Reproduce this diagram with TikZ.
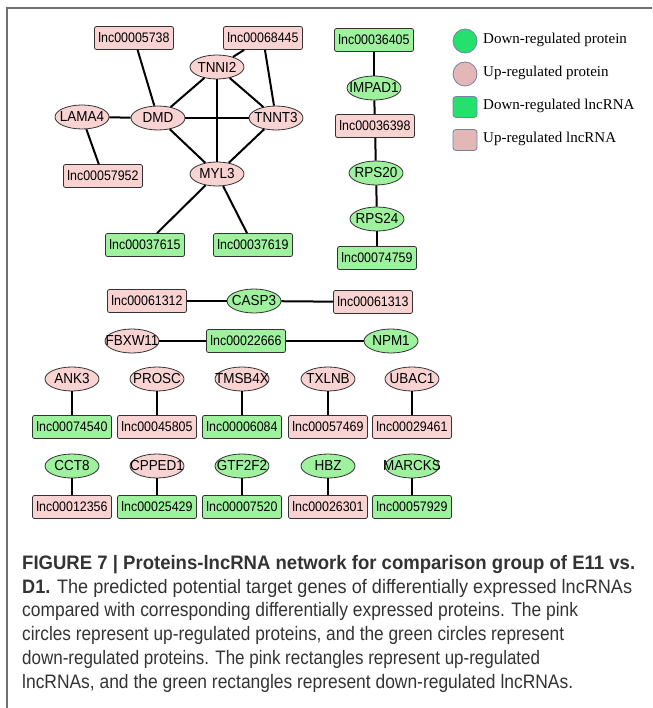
\documentclass[tikz,border=0pt]{standalone}
\usepackage{fontspec}
\setmainfont{Liberation Sans}
\newfontfamily\serifleg{Liberation Serif}
\usetikzlibrary{shapes.geometric}
\definecolor{npink}{HTML}{F9D2D2}
\definecolor{ngreen}{HTML}{9EF29E}
\definecolor{lgreen}{HTML}{26E06E}
\definecolor{lpink}{HTML}{E4B7B7}
\definecolor{lborder}{HTML}{7383A8}
\definecolor{framegray}{HTML}{707070}
\definecolor{captext}{HTML}{333333}
\newsavebox\capbox
\newdimen\capw
\newcommand\capline[2]{\sbox\capbox{#2}\capw=\wd\capbox\pgfmathsetmacro\capr{#1/\capw}\scalebox{\capr}[1]{\usebox\capbox}}
\newcommand\pl[1]{\makebox[0pt]{\scalebox{0.93}[1]{#1}}}
\newcommand\lc[1]{\scalebox{0.9}[1]{#1}}
\tikzset{
 prot/.style={ellipse, draw=black!80, line width=0.8pt, minimum width=54pt, minimum height=24pt, inner sep=0pt, font=\fontsize{14.5}{15}\selectfont},
 pprot/.style={prot, fill=npink},
 gprot/.style={prot, fill=ngreen},
 lnc/.style={rectangle, rounded corners=2pt, draw=black!80, line width=0.8pt, minimum width=79pt, minimum height=23pt, inner sep=0pt, font=\fontsize{13.8}{14}\selectfont},
 plnc/.style={lnc, fill=npink},
 glnc/.style={lnc, fill=ngreen},
 edge/.style={line width=2pt, black},
 legtext/.style={anchor=west, inner sep=0pt, font=\serifleg\fontsize{15}{16}\selectfont},
 capt/.style={anchor=base west, inner sep=0pt, text=captext, font=\fontsize{19.5}{20}\selectfont},
}
\begin{document}
\begin{tikzpicture}[x=1pt, y=-1pt]
\useasboundingbox (0,0) rectangle (652,708);
\draw[framegray, line width=1.5pt] (7,708) -- (7,8) -- (652,8);
% top cluster
\node[plnc] (l5738) at (134,38) {\lc{lnc00005738}};
\node[plnc] (l68445) at (263,38) {\lc{lnc00068445}};
\node[pprot] (tnni2) at (217,67) {\pl{TNNI2}};
\node[pprot] (lama4) at (82,117) {\pl{LAMA4}};
\node[pprot] (dmd) at (158,118) {\pl{DMD}};
\node[pprot] (tnnt3) at (276,118) {\pl{TNNT3}};
\node[plnc] (l57952) at (103,176) {\lc{lnc00057952}};
\node[pprot] (myl3) at (217,174) {\pl{MYL3}};
\node[glnc] (l37615) at (145,245) {\lc{lnc00037615}};
\node[glnc] (l37619) at (253,245) {\lc{lnc00037619}};
\draw[edge] (l5738) -- (dmd);
\draw[edge] (l68445) -- (tnni2);
\draw[edge] (l68445) -- (tnnt3);
\draw[edge] (tnni2) -- (dmd);
\draw[edge] (tnni2) -- (tnnt3);
\draw[edge] (tnni2) -- (myl3);
\draw[edge] (lama4) -- (dmd);
\draw[edge] (dmd) -- (tnnt3);
\draw[edge] (dmd) -- (myl3);
\draw[edge] (tnnt3) -- (myl3);
\draw[edge] (lama4) -- (l57952);
\draw[edge] (myl3) -- (l37615);
\draw[edge] (myl3) -- (l37619);
% right column
\node[glnc] (l36405) at (374,40) {\lc{lnc00036405}};
\node[gprot] (impad1) at (374,88) {\pl{IMPAD1}};
\node[plnc] (l36398) at (375,126) {\lc{lnc00036398}};
\node[gprot] (rps20) at (376,173) {\pl{RPS20}};
\node[gprot] (rps24) at (377,219) {\pl{RPS24}};
\node[glnc] (l74759) at (377,258) {\lc{lnc00074759}};
\draw[edge] (l36405) -- (impad1);
\draw[edge] (impad1) -- (l36398);
\draw[edge] (l36398) -- (rps20);
\draw[edge] (rps20) -- (rps24);
\draw[edge] (rps24) -- (l74759);
% legend
\node[circle, fill=lgreen, draw=lborder, line width=0.8pt, minimum size=24pt, inner sep=0pt] (lg1) at (465,41) {};
\node[circle, fill=lpink, draw=lborder, line width=0.8pt, minimum size=24pt, inner sep=0pt] (lg2) at (465,74) {};
\node[rectangle, rounded corners=3pt, fill=lgreen, draw=lborder, line width=0.8pt, minimum width=24pt, minimum height=21pt, inner sep=0pt] (lg3) at (465,107) {};
\node[rectangle, rounded corners=3pt, fill=lpink, draw=lborder, line width=0.8pt, minimum width=24pt, minimum height=21pt, inner sep=0pt] (lg4) at (465,140) {};
\node[legtext] (lt1) at (483,40) {Down-regulated protein};
\node[legtext] (lt2) at (483,73) {Up-regulated protein};
\node[legtext] (lt3) at (483,106) {Down-regulated lncRNA};
\node[legtext] (lt4) at (483,139) {Up-regulated lncRNA};
% middle rows
\node[plnc] (l61312) at (147,301) {\lc{lnc00061312}};
\node[gprot] (casp3) at (254,301) {\pl{CASP3}};
\node[plnc] (l61313) at (373,302) {\lc{lnc00061313}};
\draw[edge] (l61312) -- (casp3);
\draw[edge] (casp3) -- (l61313);
\node[pprot] (fbxw11) at (132,341) {\pl{FBXW11}};
\node[glnc] (l22666) at (246,341) {\lc{lnc00022666}};
\node[gprot] (npm1) at (391,341) {\pl{NPM1}};
\draw[edge] (fbxw11) -- (l22666);
\draw[edge] (l22666) -- (npm1);
% row 1 pairs
\node[pprot] (ank3) at (72,379) {\pl{ANK3}};
\node[glnc] (l74540) at (72,427) {\lc{lnc00074540}};
\node[pprot] (prosc) at (157,379) {\pl{PROSC}};
\node[plnc] (l45805) at (157,427) {\lc{lnc00045805}};
\node[pprot] (tmsb4x) at (242,379) {\pl{TMSB4X}};
\node[glnc] (l06084) at (242,427) {\lc{lnc00006084}};
\node[pprot] (txlnb) at (328,379) {\pl{TXLNB}};
\node[plnc] (l57469) at (328,427) {\lc{lnc00057469}};
\node[pprot] (ubac1) at (412,379) {\pl{UBAC1}};
\node[plnc] (l29461) at (412,427) {\lc{lnc00029461}};
\draw[edge] (ank3) -- (l74540);
\draw[edge] (prosc) -- (l45805);
\draw[edge] (tmsb4x) -- (l06084);
\draw[edge] (txlnb) -- (l57469);
\draw[edge] (ubac1) -- (l29461);
% row 2 pairs
\node[gprot] (cct8) at (72,466) {\pl{CCT8}};
\node[plnc] (l12356) at (72,507) {\lc{lnc00012356}};
\node[pprot] (cpped1) at (157,466) {\pl{CPPED1}};
\node[glnc] (l25429) at (157,507) {\lc{lnc00025429}};
\node[gprot] (gtf2f2) at (242,466) {\pl{GTF2F2}};
\node[glnc] (l07520) at (242,507) {\lc{lnc00007520}};
\node[gprot] (hbz) at (328,466) {\pl{HBZ}};
\node[plnc] (l26301) at (328,507) {\lc{lnc00026301}};
\node[gprot] (marcks) at (412,466) {\pl{MARCKS}};
\node[glnc] (l57929) at (412,507) {\lc{lnc00057929}};
\draw[edge] (cct8) -- (l12356);
\draw[edge] (cpped1) -- (l25429);
\draw[edge] (gtf2f2) -- (l07520);
\draw[edge] (hbz) -- (l26301);
\draw[edge] (marcks) -- (l57929);
% caption
\node[capt] (c1) at (22,569.5) {\capline{613}{\bfseries FIGURE 7 | Proteins-lncRNA network for comparison group of E11 vs.}};
\node[capt] (c2) at (22,593.2) {\capline{610}{{\bfseries D1.} The predicted potential target genes of differentially expressed lncRNAs}};
\node[capt] (c3) at (22,616.9) {\capline{556}{compared with corresponding differentially expressed proteins. The pink}};
\node[capt] (c4) at (22,640.6) {\capline{542}{circles represent up-regulated proteins, and the green circles represent}};
\node[capt] (c5) at (22,664.3) {\capline{518}{down-regulated proteins. The pink rectangles represent up-regulated}};
\node[capt] (c6) at (22,688) {\capline{551}{lncRNAs, and the green rectangles represent down-regulated lncRNAs.}};
\end{tikzpicture}
\end{document}
